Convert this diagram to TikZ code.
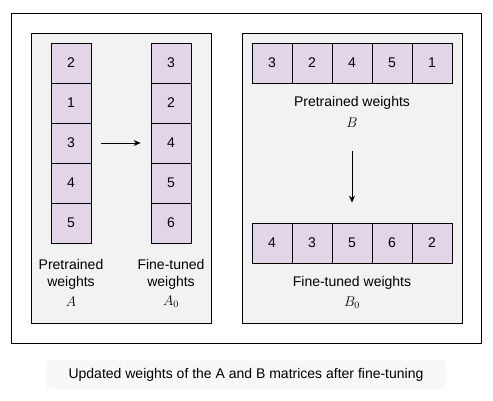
\documentclass[tikz,border=0pt]{standalone}
\usepackage{fix-cm}
\usepackage[no-math]{fontspec}
\setmainfont{Liberation Sans}
\usepackage{xcolor}
\usepackage{tikz}
\usetikzlibrary{arrows.meta, positioning}
\definecolor{cellpurple}{HTML}{E1D5E7}
\definecolor{panelgray}{HTML}{F2F2F2}
\definecolor{captiongray}{HTML}{F7F8FA}
\tikzset{
    cell/.style={draw, fill=cellpurple, line width=0.8pt, minimum size=40pt, inner sep=0pt},
    panel/.style={draw, fill=panelgray, line width=0.8pt},
    lbl/.style={align=center, inner sep=0pt}
}

\begin{document}
\begin{tikzpicture}[x=1pt, y=-1pt, >={Stealth[length=7pt, width=6pt]}, every node/.style={font=\fontsize{14}{17}\selectfont}]
        \useasboundingbox (0,0) rectangle (493,401);
        % frames
        \draw[line width=0.8pt] (11,13) rectangle (481,343);
        \draw[panel] (31,33) rectangle (211,323);
        \draw[panel] (242,33) rectangle (462,323);
        % matrix A
        \node[cell] (a1) at (71,63) {2};
        \node[cell] (a2) at (71,103) {1};
        \node[cell] (a3) at (71,143) {3};
        \node[cell] (a4) at (71,183) {4};
        \node[cell] (a5) at (71,223) {5};
        % matrix A_0
        \node[cell] (f1) at (171,63) {3};
        \node[cell] (f2) at (171,103) {2};
        \node[cell] (f3) at (171,143) {4};
        \node[cell] (f4) at (171,183) {5};
        \node[cell] (f5) at (171,223) {6};
        \node[lbl] (la) at (71,274) {Pretrained\\weights};
        \node[lbl] (ma) at (71,302) {$A$};
        \node[lbl] (lf) at (171,274) {Fine-tuned\\weights};
        \node[lbl] (mf) at (171,302) {$A_0$};
        \draw[->, line width=0.8pt, shorten <=10pt, shorten >=10pt] (a3) -- (f3);
        % matrix B
        \node[cell] (b1) at (272,63) {3};
        \node[cell] (b2) at (312,63) {2};
        \node[cell] (b3) at (352,63) {4};
        \node[cell] (b4) at (392,63) {5};
        \node[cell] (b5) at (432,63) {1};
        % matrix B_0
        \node[cell] (c1) at (272,243) {4};
        \node[cell] (c2) at (312,243) {3};
        \node[cell] (c3) at (352,243) {5};
        \node[cell] (c4) at (392,243) {6};
        \node[cell] (c5) at (432,243) {2};
        \node[lbl] (lb) at (352,103) {Pretrained weights};
        \node[lbl] (mb) at (352,123) {$B$};
        \node[lbl] (lc) at (352,283) {Fine-tuned weights};
        \node[lbl] (mc) at (352,303) {$B_0$};
        \draw[->, line width=0.8pt, shorten <=23pt, shorten >=20pt] (mb) -- (c3);
        % caption
        \node[fill=captiongray, rounded corners=4pt, minimum width=400pt, minimum height=29pt] (cap) at (246,374.5) {Updated weights of the A and B matrices after fine-tuning};
\end{tikzpicture}
\end{document}
